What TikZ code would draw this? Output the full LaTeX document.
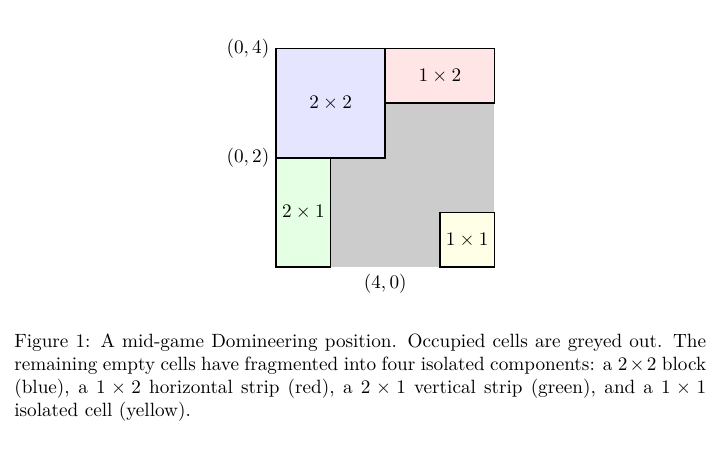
\documentclass[tikz,border=0pt]{standalone}
\begin{document}
\begin{tikzpicture}[x=1cm,y=1cm,
  blk/.style={draw=black,thick},
  lab/.style={font=\normalsize}]
\useasboundingbox (-5.055,-3.35) rectangle (8.13,4.89);
\fill[black!20] (0,0) rectangle (4,3);
\draw[blk,fill=blue!10] (0,2) rectangle (2,4);
\draw[blk,fill=red!10] (2,3) rectangle (4,4);
\draw[blk,fill=green!10] (0,0) rectangle (1,2);
\draw[blk,fill=yellow!10] (3,0) rectangle (4,1);
\node (b) at (1,3) {$2\times 2$};
\node (r) at (3,3.5) {$1\times 2$};
\node (g) at (0.5,1) {$2\times 1$};
\node (y) at (3.5,0.5) {$1\times 1$};
\node[anchor=east] (l4) at (0,4) {$(0,4)$};
\node[anchor=east] (l2) at (0,2) {$(0,2)$};
\node[anchor=north] (l0) at (2,0) {$(4,0)$};
\node[anchor=north west,inner sep=0pt,text width=12.67cm,align=justify] (cap) at (-4.80,-1.21)
{Figure 1: A mid-game Domineering position. Occupied cells are greyed out. The remaining empty cells have fragmented into four isolated components: a $2\times 2$ block (blue), a $1\times 2$ horizontal strip (red), a $2\times 1$ vertical strip (green), and a $1\times 1$ isolated cell (yellow).};
\end{tikzpicture}
\end{document}
